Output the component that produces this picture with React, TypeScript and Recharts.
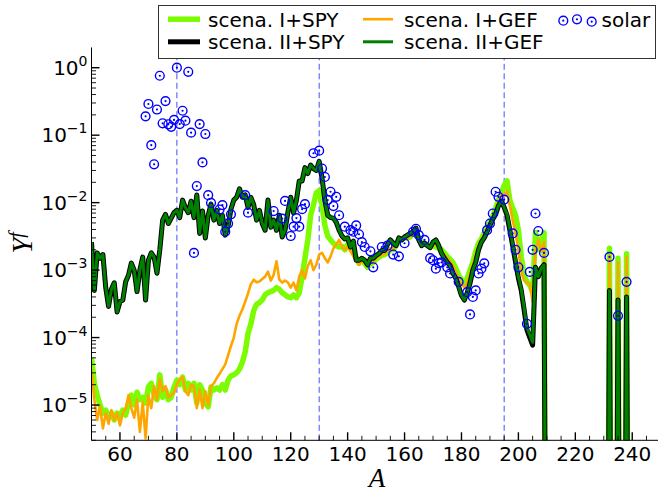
import React from 'react';
import { ComposedChart, Line, Scatter, XAxis, YAxis, ReferenceLine } from 'recharts';

const FONT = '"DejaVu Sans", Verdana, sans-serif';
const SERIF = '"Liberation Serif", "DejaVu Serif", serif';
const BLUE = '#0000ff';

// mass number A
const MASS = [
  50, 51, 52, 53, 54, 55, 56, 57, 58, 59,
  60, 61, 62, 63, 64, 65, 66, 67, 68, 69,
  70, 71, 72, 73, 74, 75, 76, 77, 78, 79,
  80, 81, 82, 83, 84, 85, 86, 87, 88, 89,
  90, 91, 92, 93, 94, 95, 96, 97, 98, 99,
  100, 101, 102, 103, 104, 105, 106, 107, 108, 109,
  110, 111, 112, 113, 114, 115, 116, 117, 118, 119,
  120, 121, 122, 123, 124, 125, 126, 127, 128, 129,
  130, 131, 132, 133, 134, 135, 136, 137, 138, 139,
  140, 141, 142, 143, 144, 145, 146, 147, 148, 149,
  150, 151, 152, 153, 154, 155, 156, 157, 158, 159,
  160, 161, 162, 163, 164, 165, 166, 167, 168, 169,
  170, 171, 172, 173, 174, 175, 176, 177, 178, 179,
  180, 181, 182, 183, 184, 185, 186, 187, 188, 189,
  190, 191, 192, 193, 194, 195, 196, 197, 198, 199,
  200, 201, 202, 203, 204, 205, 206, 207, 208, 209,
  210,
  231, 232, 233, 234, 235, 236, 237, 238, 239,
];

// scena. I+SPY
const SPY_I = [
  5.0e-5, 2.1e-5, 1.4e-5, 1.0e-5, 7.6e-6, 8.4e-6, 6.6e-6, 7.6e-6, 6.0e-6, 7.6e-6,
  6.6e-6, 8.4e-6, 7.1e-6, 1.07e-5, 1.4e-5, 1.0e-5, 1.55e-5, 1.2e-5, 1.3e-5, 1.07e-5,
  1.85e-5, 2.1e-5, 1.4e-5, 1.2e-5, 2.8e-5, 1.3e-5, 1.7e-5, 1.2e-5, 1.3e-5, 1.85e-5,
  2.35e-5, 2.0e-5, 2.6e-5, 1.67e-5, 2.1e-5, 1.67e-5, 2.1e-5, 1.07e-5, 2.0e-5, 1.67e-5,
  1.07e-5, 9.4e-6, 1.85e-5, 1.67e-5, 1.8e-5, 1.67e-5, 2.0e-5, 1.67e-5, 2.35e-5, 2.7e-5,
  2.8e-5, 3.0e-5, 3.4e-5, 4.3e-5, 6.1e-5, 1.15e-4, 1.6e-4, 2.5e-4, 3.1e-4, 3.3e-4,
  3.6e-4, 4.3e-4, 4.6e-4, 4.8e-4, 5.0e-4, 5.5e-4, 5.2e-4, 4.6e-4, 4.3e-4, 4.0e-4,
  3.9e-4, 4.3e-4, 3.9e-4, 4.6e-4, 7.9e-4, 1.5e-3, 2.8e-3, 6.5e-3, 9.3e-3, 1.4e-2,
  1.5e-2, 9.3e-3, 4.6e-3, 3.2e-3, 2.8e-3, 2.5e-3, 2.3e-3, 2.2e-3, 2.25e-3, 2.0e-3,
  2.4e-3, 2.1e-3, 1.85e-3, 1.55e-3, 1.26e-3, 1.48e-3, 1.26e-3, 1.1e-3, 1.23e-3, 1.3e-3,
  1.45e-3, 1.55e-3, 1.65e-3, 1.7e-3, 1.8e-3, 2.0e-3, 2.0e-3, 2.3e-3, 2.8e-3, 2.85e-3,
  3.0e-3, 3.0e-3, 3.1e-3, 3.5e-3, 3.9e-3, 2.9e-3, 2.6e-3, 2.5e-3, 2.4e-3, 2.3e-3,
  2.3e-3, 2.2e-3, 2.1e-3, 2.0e-3, 1.8e-3, 1.6e-3, 1.45e-3, 1.3e-3, 1.07e-3, 8.5e-4,
  7.2e-4, 6.5e-4, 7.6e-4, 1.0e-3, 1.3e-3, 1.9e-3, 2.5e-3, 2.9e-3, 3.6e-3, 4.3e-3,
  5.1e-3, 6.3e-3, 8.3e-3, 1.09e-2, 1.4e-2, 1.8e-2, 2.1e-2, 1.09e-2, 8.3e-3, 6.5e-3,
  3.9e-3, 1.6e-3, 8.5e-4, 6.7e-4, 6.0e-4, 4.7e-4, 3.6e-3, 2.0e-3, 2.8e-3, 3.6e-3,
  1e-12,
  1e-12, 2.1e-3, 1e-12, 1e-12, 1.5e-3, 1e-12, 1e-12, 1.75e-3, 1e-12,
];

// scena. II+SPY
const SPY_II = [
  2.6e-3, 5.0e-4, 1.8e-3, 1.5e-3, 1.7e-3, 5.5e-4, 2.9e-4, 5.2e-4, 6.5e-4, 2.4e-4,
  3.4e-4, 3.6e-4, 6.7e-4, 8.4e-4, 1.27e-3, 1.0e-3, 4.8e-4, 1.0e-3, 1.56e-3, 3.6e-4,
  1.4e-3, 1.8e-3, 1.56e-3, 9.0e-4, 2.0e-3, 5.5e-3, 6.7e-3, 4.9e-3, 5.9e-3, 7.1e-3,
  7.7e-3, 6.0e-3, 1.09e-2, 8.4e-3, 7.1e-3, 1.05e-2, 6.0e-3, 1.3e-2, 3.5e-3, 7.5e-3,
  3.0e-3, 6.5e-3, 9.5e-3, 5.5e-3, 7.7e-3, 4.9e-3, 6.5e-3, 3.3e-3, 4.5e-3, 8.0e-3,
  1.09e-2, 1.2e-2, 1.6e-2, 1.2e-2, 1.3e-2, 8.5e-3, 1.2e-2, 9.3e-3, 5.5e-3, 7.7e-3,
  4.9e-3, 3.9e-3, 1.09e-2, 4.3e-3, 5.5e-3, 3.9e-3, 6.5e-3, 3.1e-3, 3.9e-3, 7.2e-3,
  1.2e-2, 7.0e-3, 1.09e-2, 2.1e-2, 2.1e-2, 3.3e-2, 2.7e-2, 3.6e-2, 3.2e-2, 3.0e-2,
  4.1e-2, 2.3e-2, 1.09e-2, 6.5e-3, 6.0e-3, 5.9e-3, 5.1e-3, 3.9e-3, 3.2e-3, 2.9e-3,
  3.0e-3, 2.2e-3, 2.7e-3, 1.4e-3, 1.4e-3, 1.5e-3, 1.4e-3, 1.2e-3, 1.5e-3, 1.5e-3,
  1.65e-3, 1.75e-3, 1.95e-3, 1.95e-3, 2.4e-3, 2.8e-3, 2.5e-3, 2.3e-3, 3.0e-3, 2.8e-3,
  3.1e-3, 3.3e-3, 3.5e-3, 3.7e-3, 4.2e-3, 2.8e-3, 2.3e-3, 2.5e-3, 2.3e-3, 2.15e-3,
  2.6e-3, 2.8e-3, 2.3e-3, 1.76e-3, 1.5e-3, 1.3e-3, 1.17e-3, 9.0e-4, 7.6e-4, 5.7e-4,
  4.2e-4, 3.6e-4, 4.6e-4, 6.4e-4, 1.0e-3, 1.3e-3, 2.0e-3, 2.6e-3, 3.0e-3, 3.7e-3,
  4.6e-3, 5.7e-3, 6.7e-3, 9.0e-3, 1.05e-2, 8.5e-3, 6.5e-3, 3.9e-3, 2.3e-3, 1.3e-3,
  7.6e-4, 5.0e-4, 2.6e-4, 1.3e-4, 1.0e-4, 7.7e-5, 1.1e-3, 8.0e-4, 1.07e-3, 1.2e-3,
  1e-12,
  1e-12, 5.0e-4, 1e-12, 1e-12, 3.6e-4, 1e-12, 1e-12, 4.0e-4, 1e-12,
];

// scena. I+GEF
const GEF_I = [
  3.3e-5, 1.2e-5, 6.0e-6, 9.5e-6, 4.5e-6, 7.6e-6, 5.3e-6, 8.4e-6, 6.0e-6, 7.6e-6,
  5.0e-6, 7.6e-6, 8.9e-6, 1.4e-5, 9.0e-6, 6.5e-6, 1.2e-5, 4.0e-6, 1.1e-5, 3.2e-6,
  1.4e-5, 9.0e-6, 1.9e-5, 1.2e-5, 2.4e-5, 1.6e-5, 1.9e-5, 1.3e-5, 1.4e-5, 1.5e-5,
  2.0e-5, 2.4e-5, 2.6e-5, 1.6e-5, 1.4e-5, 2.0e-5, 1.9e-5, 9.0e-6, 1.7e-5, 9.0e-6,
  1.6e-5, 1.0e-5, 1.9e-5, 2.1e-5, 2.5e-5, 2.9e-5, 3.4e-5, 4.0e-5, 5.5e-5, 7.5e-5,
  1.0e-4, 1.6e-4, 2.1e-4, 2.6e-4, 3.4e-4, 4.5e-4, 6.2e-4, 7.2e-4, 6.6e-4, 6.8e-4,
  7.4e-4, 8.0e-4, 9.5e-4, 7.0e-4, 8.5e-4, 1.35e-3, 7.2e-4, 6.5e-4, 7.0e-4, 6.6e-4,
  5.5e-4, 6.5e-4, 5.0e-4, 8.0e-4, 1.0e-3, 7.5e-4, 1.15e-3, 1.4e-3, 1.0e-3, 1.2e-3,
  1.7e-3, 1.8e-3, 1.5e-3, 1.3e-3, 1.6e-3, 2.1e-3, 2.4e-3, 2.8e-3, 2.2e-3, 2.0e-3,
  2.2e-3, 1.9e-3, 1.6e-3, 1.35e-3, 1.2e-3, 1.4e-3, 1.25e-3, 1.15e-3, 1.25e-3, 1.35e-3,
  1.5e-3, 1.6e-3, 1.7e-3, 1.75e-3, 1.9e-3, 2.1e-3, 2.1e-3, 2.3e-3, 2.7e-3, 2.8e-3,
  3.0e-3, 3.0e-3, 3.2e-3, 3.5e-3, 4.0e-3, 2.9e-3, 2.5e-3, 2.5e-3, 2.4e-3, 2.3e-3,
  2.4e-3, 2.4e-3, 2.2e-3, 1.9e-3, 1.7e-3, 1.5e-3, 1.35e-3, 1.15e-3, 9.5e-4, 7.5e-4,
  6.2e-4, 5.6e-4, 6.5e-4, 8.8e-4, 1.2e-3, 1.7e-3, 2.3e-3, 2.8e-3, 3.4e-3, 4.1e-3,
  4.9e-3, 6.0e-3, 7.8e-3, 1.0e-2, 1.35e-2, 1.25e-2, 1.5e-2, 9.0e-3, 5.5e-3, 3.5e-3,
  2.0e-3, 9.5e-4, 7.0e-4, 6.5e-4, 6.2e-4, 3.4e-4, 1.9e-3, 2.8e-3, 1.9e-3, 2.6e-3,
  1e-12,
  1e-12, 1.65e-3, 1e-12, 1e-12, 1.3e-3, 1e-12, 1e-12, 1.55e-3, 1e-12,
];

// scena. II+GEF
const GEF_II = [
  2.6e-3, 5.0e-4, 1.8e-3, 1.5e-3, 1.7e-3, 5.5e-4, 2.9e-4, 5.2e-4, 6.5e-4, 2.4e-4,
  3.4e-4, 3.6e-4, 6.7e-4, 8.4e-4, 1.27e-3, 1.0e-3, 4.8e-4, 1.0e-3, 1.56e-3, 3.6e-4,
  1.4e-3, 1.8e-3, 1.56e-3, 9.0e-4, 2.0e-3, 5.5e-3, 6.7e-3, 4.9e-3, 5.9e-3, 7.1e-3,
  7.7e-3, 6.0e-3, 1.09e-2, 8.4e-3, 7.1e-3, 1.05e-2, 6.0e-3, 1.3e-2, 3.5e-3, 7.5e-3,
  3.0e-3, 6.5e-3, 9.5e-3, 5.5e-3, 7.7e-3, 4.9e-3, 6.5e-3, 3.3e-3, 4.5e-3, 8.0e-3,
  1.09e-2, 1.2e-2, 1.6e-2, 1.2e-2, 1.3e-2, 8.5e-3, 1.2e-2, 9.3e-3, 5.5e-3, 7.7e-3,
  4.9e-3, 3.9e-3, 1.09e-2, 4.3e-3, 5.5e-3, 3.9e-3, 6.5e-3, 3.1e-3, 3.9e-3, 7.2e-3,
  1.2e-2, 7.0e-3, 1.09e-2, 2.1e-2, 2.1e-2, 3.3e-2, 2.7e-2, 3.6e-2, 3.2e-2, 3.0e-2,
  4.1e-2, 2.3e-2, 1.09e-2, 6.5e-3, 6.0e-3, 5.9e-3, 5.1e-3, 3.9e-3, 3.2e-3, 2.9e-3,
  3.0e-3, 2.2e-3, 2.7e-3, 1.4e-3, 1.4e-3, 1.5e-3, 1.4e-3, 1.2e-3, 1.5e-3, 1.5e-3,
  1.65e-3, 1.75e-3, 1.95e-3, 1.95e-3, 2.4e-3, 2.8e-3, 2.5e-3, 2.3e-3, 3.0e-3, 2.8e-3,
  3.1e-3, 3.3e-3, 3.5e-3, 3.7e-3, 4.2e-3, 2.8e-3, 2.3e-3, 2.5e-3, 2.3e-3, 2.15e-3,
  2.6e-3, 2.8e-3, 2.3e-3, 1.76e-3, 1.5e-3, 1.3e-3, 1.17e-3, 9.0e-4, 7.6e-4, 5.7e-4,
  4.2e-4, 3.6e-4, 4.6e-4, 6.4e-4, 1.0e-3, 1.3e-3, 2.0e-3, 2.6e-3, 3.0e-3, 3.7e-3,
  4.6e-3, 5.7e-3, 6.7e-3, 9.0e-3, 1.05e-2, 8.5e-3, 6.8e-3, 4.1e-3, 2.4e-3, 1.4e-3,
  8.0e-4, 5.2e-4, 2.8e-4, 1.4e-4, 1.1e-4, 8.5e-5, 1.1e-3, 8.0e-4, 1.07e-3, 1.2e-3,
  1e-12,
  1e-12, 5.0e-4, 1e-12, 1e-12, 3.6e-4, 1e-12, 1e-12, 4.0e-4, 1e-12,
];

// solar r-process abundances
const SOLAR_A = [
  69, 70, 71, 72, 73, 74, 75, 76, 77, 78, 79, 80, 81, 82, 83, 84, 85, 86, 87, 88,
  89, 90, 91, 92, 95, 96, 97, 98, 99, 104, 105, 114, 117, 118, 120, 121, 122, 123, 124, 125,
  128, 130, 131, 132, 133, 134, 135, 136, 137, 139, 141, 142, 143, 144, 145, 146, 148, 149, 152, 154,
  156, 158, 160, 163, 164, 165, 167, 169, 170, 171, 172, 173, 175, 176, 179, 182, 183, 184, 185, 186,
  187, 188, 189, 190, 191, 192, 193, 195, 198, 199, 200, 203, 204, 205, 206, 207, 209, 232, 235, 238,
];
const SOLAR_Y = [
  0.19, 0.29, 0.071, 0.037, 0.24, 0.76, 0.15, 0.32, 0.145, 0.133, 0.168, 1.0, 0.146, 0.23, 0.164, 0.87, 0.109, 0.0018, 0.0176, 0.146,
  0.0395, 0.104, 0.0129, 0.0099, 0.0079, 0.0092, 0.0037, 0.0049, 0.0067, 0.0129, 0.0071, 0.0075, 0.0058, 0.0106, 0.0032, 0.0044, 0.0059, 0.0044, 0.008, 0.0095,
  0.054, 0.059, 0.032, 0.024, 0.0109, 0.0145, 0.0089, 0.0122, 0.0065, 0.0044, 0.0039, 0.0037, 0.0046, 0.0034, 0.0026, 0.0022, 0.0019, 0.0011, 0.0022, 0.0023,
  0.0017, 0.0016, 0.0025, 0.0037, 0.0041, 0.0033, 0.0028, 0.0015, 0.0014, 0.00105, 0.00127, 0.0013, 0.0011, 0.00089, 0.00067, 0.00047, 0.00022, 0.0004, 0.0005, 0.00089,
  0.00105, 0.00126, 0.0039, 0.0049, 0.0069, 0.0145, 0.0122, 0.0111, 0.0035, 0.002, 0.0011, 0.00016, 0.00094, 0.002, 0.0069, 0.0038, 0.0018, 0.00157, 0.00021, 0.00067,
];

const MAGIC_A = [80, 130, 195];

const X_MAJOR = [60, 80, 100, 120, 140, 160, 180, 200, 220, 240];
const X_TICKS = [
  55, 60, 65, 70, 75, 80, 85, 90, 95, 100, 105, 110, 115, 120, 125, 130, 135, 140, 145, 150,
  155, 160, 165, 170, 175, 180, 185, 190, 195, 200, 205, 210, 215, 220, 225, 230, 235, 240, 245,
];
const Y_MAJOR = [1e-5, 1e-4, 1e-3, 1e-2, 1e-1, 1];
const Y_MAJOR_EXP = ['\u22125', '\u22124', '\u22123', '\u22122', '\u22121', '0'];
const Y_TICKS = [
  3e-6, 4e-6, 5e-6, 6e-6, 7e-6, 8e-6, 9e-6,
  1e-5, 2e-5, 3e-5, 4e-5, 5e-5, 6e-5, 7e-5, 8e-5, 9e-5,
  1e-4, 2e-4, 3e-4, 4e-4, 5e-4, 6e-4, 7e-4, 8e-4, 9e-4,
  1e-3, 2e-3, 3e-3, 4e-3, 5e-3, 6e-3, 7e-3, 8e-3, 9e-3,
  1e-2, 2e-2, 3e-2, 4e-2, 5e-2, 6e-2, 7e-2, 8e-2, 9e-2,
  1e-1, 2e-1, 3e-1, 4e-1, 5e-1, 6e-1, 7e-1, 8e-1, 9e-1,
  1,
];

const makeRows = (vals: number[]) => MASS.map((A, i) => ({ A, y: vals[i] }));
const rowsSpyI = makeRows(SPY_I);
const rowsSpyII = makeRows(SPY_II);
const rowsGefI = makeRows(GEF_I);
const rowsGefII = makeRows(GEF_II);
const solarRows = SOLAR_A.map((A, i) => ({ A, y: SOLAR_Y[i] }));

const MAJOR_LEN = 8;
const MINOR_LEN = 4.5;

function BottomTick(props: any) {
  const { x, y, payload } = props;
  const v = payload.value;
  const major = X_MAJOR.includes(v);
  return (
    <g>
      <line x1={x} x2={x} y1={y} y2={y - (major ? MAJOR_LEN : MINOR_LEN)} stroke="#000" strokeWidth={major ? 1.4 : 0.9} />
      {major && (
        <text x={x} y={y + 20.5} textAnchor="middle" fontFamily={FONT} fontSize={20} fill="#000">
          {v}
        </text>
      )}
    </g>
  );
}

function TopTick(props: any) {
  const { x, y, payload } = props;
  const major = X_MAJOR.includes(payload.value);
  return <line x1={x} x2={x} y1={y} y2={y + (major ? MAJOR_LEN : MINOR_LEN)} stroke="#000" strokeWidth={major ? 1.4 : 0.9} />;
}

function LeftTick(props: any) {
  const { x, y, payload } = props;
  const idx = Y_MAJOR.indexOf(payload.value);
  const major = idx >= 0;
  return (
    <g>
      <line x1={x} x2={x + (major ? MAJOR_LEN : MINOR_LEN)} y1={y} y2={y} stroke="#000" strokeWidth={major ? 1.4 : 0.9} />
      {major && (
        <text x={x - 4} y={y + 7} textAnchor="end" fontFamily={FONT} fontSize={20} fill="#000">
          10
          <tspan dy={-9} fontSize={14}>{Y_MAJOR_EXP[idx]}</tspan>
        </text>
      )}
    </g>
  );
}

function RightTick(props: any) {
  const { x, y, payload } = props;
  const major = Y_MAJOR.indexOf(payload.value) >= 0;
  return <line x1={x} x2={x - (major ? MAJOR_LEN : MINOR_LEN)} y1={y} y2={y} stroke="#000" strokeWidth={major ? 1.4 : 0.9} />;
}

function SolarMarker(props: any) {
  const { cx, cy } = props;
  if (cx == null || cy == null) return <g />;
  return (
    <g>
      <circle cx={cx} cy={cy} r={4.4} fill="none" stroke={BLUE} strokeWidth={1.4} />
      <circle cx={cx} cy={cy} r={1.1} fill={BLUE} />
    </g>
  );
}

const LIME = '#7cfc00';
const ORANGE = '#ffa500';
const BLACK = '#000000';
const GREEN = '#008000';

export default function App() {
  return (
    <div style={{ position: 'absolute', left: 0, top: 0, width: 658, height: 494, overflow: 'hidden', background: '#fff' }}>
      <ComposedChart width={662} height={494} margin={{ top: 47.4, right: 1.3, bottom: 0, left: 0 }}>
        <XAxis
          xAxisId="b"
          dataKey="A"
          type="number"
          domain={[50, 250]}
          allowDataOverflow
          ticks={X_TICKS}
          interval={0}
          height={53.7}
          tickSize={0}
          tickMargin={0}
          tickLine={false}
          axisLine={{ stroke: '#000', strokeWidth: 1 }}
          tick={BottomTick}
        />
        <XAxis
          xAxisId="t"
          orientation="top"
          dataKey="A"
          type="number"
          domain={[50, 250]}
          allowDataOverflow
          ticks={X_TICKS}
          interval={0}
          height={0}
          tickSize={0}
          tickMargin={0}
          tickLine={false}
          axisLine={{ stroke: '#000', strokeWidth: 1 }}
          tick={TopTick}
        />
        <YAxis
          yAxisId="l"
          dataKey="y"
          type="number"
          scale="log"
          domain={[3e-6, 2]}
          allowDataOverflow
          ticks={Y_TICKS}
          interval={0}
          width={91.5}
          tickSize={0}
          tickMargin={0}
          tickLine={false}
          axisLine={{ stroke: '#000', strokeWidth: 1 }}
          tick={LeftTick}
        />
        <YAxis
          yAxisId="r"
          orientation="right"
          dataKey="y"
          type="number"
          scale="log"
          domain={[3e-6, 2]}
          allowDataOverflow
          ticks={Y_TICKS}
          interval={0}
          width={0}
          tickSize={0}
          tickMargin={0}
          tickLine={false}
          axisLine={{ stroke: '#000', strokeWidth: 1 }}
          tick={RightTick}
        />
        {MAGIC_A.map((a) => (
          <ReferenceLine key={a} x={a} xAxisId="b" yAxisId="l" stroke="#4b4bff" strokeWidth={1} strokeDasharray="6 3.5" />
        ))}
        <Line data={rowsSpyI} dataKey="y" xAxisId="b" yAxisId="l" type="linear" stroke={LIME} strokeWidth={5.5} strokeLinejoin="round" dot={false} activeDot={false} isAnimationActive={false} />
        <Line data={rowsGefI} dataKey="y" xAxisId="b" yAxisId="l" type="linear" stroke={ORANGE} strokeWidth={2.6} strokeLinejoin="round" dot={false} activeDot={false} isAnimationActive={false} />
        <Line data={rowsSpyII} dataKey="y" xAxisId="b" yAxisId="l" type="linear" stroke={BLACK} strokeWidth={5} strokeLinejoin="round" dot={false} activeDot={false} isAnimationActive={false} />
        <Line data={rowsGefII} dataKey="y" xAxisId="b" yAxisId="l" type="linear" stroke={GREEN} strokeWidth={3} strokeLinejoin="round" dot={false} activeDot={false} isAnimationActive={false} />
        <Scatter data={solarRows} dataKey="y" xAxisId="b" yAxisId="l" shape={SolarMarker} isAnimationActive={false} />
      </ComposedChart>
      <svg style={{ position: 'absolute', left: 0, top: 0 }} width={658} height={494}>
        <text x={377} y={487} textAnchor="middle" fontFamily={SERIF} fontStyle="italic" fontSize={27} fill="#000">A</text>
        <text transform="translate(32,243) rotate(-90)" textAnchor="middle" fontFamily={SERIF} fontStyle="italic" fontSize={29} fill="#000">
          Y<tspan dy={-9} fontSize={20}>f</tspan>
        </text>
        <rect x={158.5} y={5.5} width={497} height={53} fill="#fff" stroke="#333" strokeWidth={1} />
        <line x1={168} x2={200} y1={19.2} y2={19.2} stroke={LIME} strokeWidth={5.5} />
        <text x={208} y={26.6} fontFamily={FONT} fontSize={20} fill="#000">scena. I+SPY</text>
        <line x1={168} x2={200} y1={41.8} y2={41.8} stroke={BLACK} strokeWidth={5} />
        <text x={208} y={49.4} fontFamily={FONT} fontSize={20} fill="#000">scena. II+SPY</text>
        <line x1={363} x2={393} y1={19.2} y2={19.2} stroke={ORANGE} strokeWidth={2.6} />
        <text x={404} y={26.6} fontFamily={FONT} fontSize={20} fill="#000">scena. I+GEF</text>
        <line x1={363} x2={393} y1={41.8} y2={41.8} stroke={GREEN} strokeWidth={3} />
        <text x={404} y={49.4} fontFamily={FONT} fontSize={20} fill="#000">scena. II+GEF</text>
        <SolarMarker cx={563.3} cy={20.7} />
        <SolarMarker cx={577} cy={19.3} />
        <SolarMarker cx={591.7} cy={21.7} />
        <text x={601.5} y={26.6} fontFamily={FONT} fontSize={20} fill="#000">solar</text>
      </svg>
    </div>
  );
}
